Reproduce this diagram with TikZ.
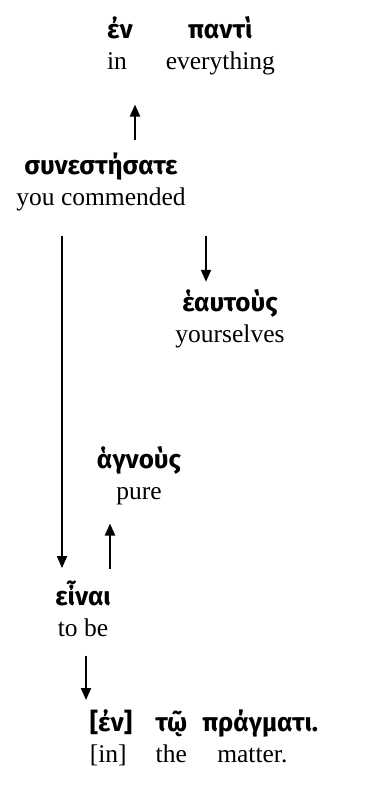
\documentclass[tikz,border=0pt]{standalone}
\usepackage{fontspec}
\setmainfont{Liberation Serif}
\newfontfamily\greekfont{Fira Sans}
\usetikzlibrary{arrows.meta,calc}

\newcommand{\gk}[1]{{\greekfont\bfseries\fontsize{26}{31}\selectfont #1}}

\tikzset{
  word/.style={anchor=base, inner sep=0pt, font=\fontsize{25.5}{31}\selectfont},
  arr/.style={-{Triangle[length=12pt,width=10pt]}, line width=2pt},
}

\begin{document}
\begin{tikzpicture}[x=1pt,y=-1pt]
  \useasboundingbox (0,0) rectangle (370,796);

  % words, Greek over English
  \node[word] (enpanti) at (191,38)
    {\begin{tabular}[t]{@{}l@{\hspace{33pt}}c@{}}\gk{ἐν} & \gk{παντὶ}\\ in & everything\end{tabular}};
  \node[word] (syn) at (101,174)
    {\begin{tabular}[t]{@{}c@{}}\gk{συνεστήσατε}\\ you commended\end{tabular}};
  \node[word] (heautous) at (230,311)
    {\begin{tabular}[t]{@{}c@{}}\gk{ἑαυτοὺς}\\ yourselves\end{tabular}};
  \node[word] (hagnous) at (139,468)
    {\begin{tabular}[t]{@{}c@{}}\gk{ἁγνοὺς}\\ pure\end{tabular}};
  \node[word] (einai) at (83,605)
    {\begin{tabular}[t]{@{}c@{}}\gk{εἶναι}\\ to be\end{tabular}};
  \node[word] (pragmati) at (204,731)
    {\begin{tabular}[t]{@{}l@{\hspace{23pt}}c@{\hspace{15pt}}l@{}}\gk{[ἐν]} & \gk{τῷ} & \gk{πράγματι.}\\
      {[in]} & the & \hspace{15pt}matter.\end{tabular}};

  % arrow columns
  \coordinate (c1) at (135,0);
  \coordinate (c2) at (62,0);
  \coordinate (c3) at (206,0);
  \coordinate (c4) at (110,0);
  \coordinate (c5) at (86,0);

  \draw[arr] ($(syn.north -| c1)+(0,-12)$) -- ($(enpanti.south -| c1)+(0,26)$);
  \draw[arr] ($(syn.south -| c2)+(0,21)$) -- ($(einai.north -| c2)+(0,-12)$);
  \draw[arr] ($(syn.south -| c3)+(0,21)$) -- ($(heautous.north -| c3)+(0,-7)$);
  \draw[arr] ($(einai.north -| c4)+(0,-11)$) -- ($(hagnous.south -| c4)+(0,15)$);
  \draw[arr] ($(einai.south -| c5)+(0,10)$) -- ($(pragmati.north -| c5)+(0,-9)$);
\end{tikzpicture}
\end{document}
